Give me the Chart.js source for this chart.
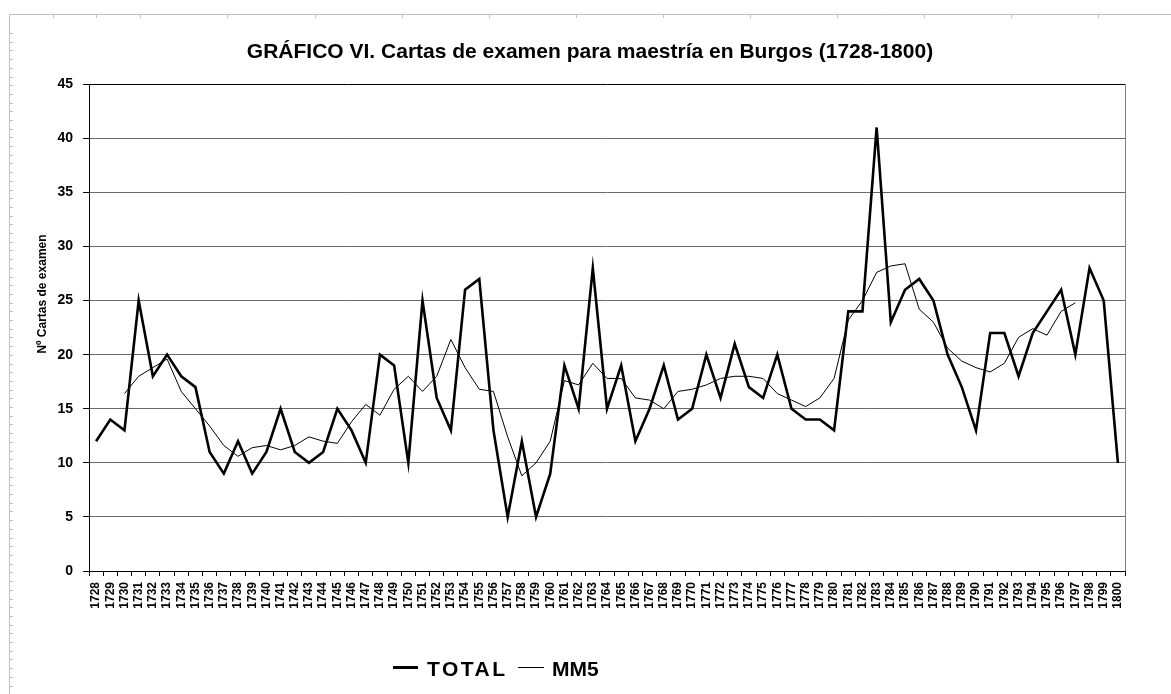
<!DOCTYPE html>
<html>
<head>
<meta charset="utf-8">
<script src="https://cdn.jsdelivr.net/npm/chart.js@4.4.1/dist/chart.umd.min.js"></script>
<style>
    body { margin: 0; background: #fff; }
    #wrap { position: relative; width: 1171px; height: 694px; }
    #wrap canvas { position: absolute; left: 0; top: 0; }
    .lg { position: absolute; font: bold 21px "Liberation Sans", Arial, sans-serif; color: #000; line-height: 1; }
    .lg-line { position: absolute; background: #000; }
</style>
</head>
<body>
<div id="wrap">
    <canvas id="burgos_chart" width="1171" height="694"></canvas>
    <div class="lg-line" style="left:393px; top:666px; width:25px; height:3px;"></div>
    <div class="lg" style="left:427px; top:658px; letter-spacing:2.5px;">TOTAL</div>
    <div class="lg-line" style="left:518px; top:667px; width:26px; height:1px;"></div>
    <div class="lg" style="left:552px; top:658px;">MM5</div>
</div>
<script>
const years = ["1728","1729","1730","1731","1732","1733","1734","1735","1736","1737",
    "1738","1739","1740","1741","1742","1743","1744","1745","1746","1747",
    "1748","1749","1750","1751","1752","1753","1754","1755","1756","1757",
    "1758","1759","1760","1761","1762","1763","1764","1765","1766","1767",
    "1768","1769","1770","1771","1772","1773","1774","1775","1776","1777",
    "1778","1779","1780","1781","1782","1783","1784","1785","1786","1787",
    "1788","1789","1790","1791","1792","1793","1794","1795","1796","1797",
    "1798","1799","1800"];

const total = [12, 14, 13, 25, 18, 20, 18, 17, 11, 9,
    12, 9, 11, 15, 11, 10, 11, 15, 13, 10,
    20, 19, 10, 25, 16, 13, 26, 27, 13, 5,
    12, 5, 9, 19, 15, 28, 15, 19, 12, 15,
    19, 14, 15, 20, 16, 21, 17, 16, 20, 15,
    14, 14, 13, 24, 24, 41, 23, 26, 27, 25,
    20, 17, 13, 22, 22, 18, 22, 24, 26, 20,
    28, 25, 10];

// media movil de 5 anos (MM5)
const mm5 = [null, null, 16.4, 18, 18.8, 19.6, 16.6, 15, 13.4, 11.6,
    10.6, 11.4, 11.6, 11.2, 11.6, 12.4, 12, 11.8, 13.8, 15.4,
    14.4, 16.8, 18, 16.6, 18, 21.4, 18.8, 16.8, 16.6, 12.4,
    8.8, 10, 12, 17.6, 17.2, 19.2, 17.8, 17.8, 16, 15.8,
    15, 16.6, 16.8, 17.2, 17.8, 18, 18, 17.8, 16.4, 15.8,
    15.2, 16, 17.8, 23.2, 25, 27.6, 28.2, 28.4, 24.2, 23,
    20.6, 19.4, 18.8, 18.4, 19.2, 21.6, 22.4, 21.8, 24, 24.8,
    null, null, null];

const yMin = 0;
const yMax = 45;
const yStep = 5;

const FONT = '"Liberation Sans", Arial, sans-serif';

// marco gris de la hoja y titulo del eje Y
const sheetFrame = {
    id: "sheetFrame",
    beforeDraw(chart) {
        const ctx = chart.ctx;
        ctx.save();
        ctx.strokeStyle = "#c0c0c0";
        ctx.lineWidth = 1;
        ctx.beginPath();
        ctx.moveTo(9, 14.5); ctx.lineTo(1171, 14.5);
        ctx.moveTo(9.5, 14); ctx.lineTo(9.5, 694);
        const topTicks = [53, 96, 140, 227, 315, 402, 489, 576, 663, 750, 837, 924, 1011, 1098];
        topTicks.forEach(x => { ctx.moveTo(x + 0.5, 14); ctx.lineTo(x + 0.5, 18); });
        for (let y = 33; y < 694; y += 8.7) {
            const yy = Math.round(y) + 0.5;
            ctx.moveTo(9, yy); ctx.lineTo(13, yy);
        }
        ctx.stroke();
        ctx.restore();
    },
    afterDraw(chart) {
        const ctx = chart.ctx;
        const area = chart.chartArea;
        ctx.save();
        ctx.strokeStyle = "#808080";
        ctx.lineWidth = 1;
        ctx.beginPath();
        ctx.moveTo(area.right + 0.5, area.top);
        ctx.lineTo(area.right + 0.5, area.bottom);
        ctx.stroke();
        ctx.translate(43, 294);
        ctx.rotate(-Math.PI / 2);
        ctx.fillStyle = "#000";
        ctx.font = "bold 12px " + FONT;
        ctx.textAlign = "center";
        ctx.textBaseline = "middle";
        ctx.fillText("Nº Cartas de examen", 0, 0);
        ctx.restore();
    }
};

const el = document.getElementById("burgos_chart");

new Chart(el, {
    type: "line",
    data: {
        labels: years,
        datasets: [
            {
                label: "TOTAL",
                data: total,
                borderColor: "#000",
                borderWidth: 2.6,
                pointRadius: 0,
                tension: 0,
                order: 2
            },
            {
                label: "MM5",
                data: mm5,
                borderColor: "#000",
                borderWidth: 1,
                pointRadius: 0,
                tension: 0,
                order: 1
            }
        ]
    },
    options: {
        responsive: false,
        animation: false,
        events: [],
        layout: { padding: { left: 55, right: 46, top: 0, bottom: 0 } },
        plugins: {
            legend: { display: false },
            tooltip: { enabled: false },
            title: {
                display: true,
                text: "GRÁFICO VI. Cartas de examen para maestría en Burgos (1728-1800)",
                color: "#000",
                font: { family: FONT, size: 21, weight: "bold" },
                padding: { top: 40, bottom: 19 }
            }
        },
        scales: {
            x: {
                offset: true,
                grid: {
                    offset: true,
                    drawOnChartArea: false,
                    tickLength: 5,
                    color: "#000"
                },
                border: { color: "#000", width: 1 },
                ticks: {
                    color: "#000",
                    font: { family: FONT, size: 12, weight: "bold" },
                    minRotation: 90,
                    maxRotation: 90,
                    autoSkip: false,
                    padding: 6
                },
                afterFit(scale) { scale.height = 123; }
            },
            y: {
                min: yMin,
                max: yMax,
                grid: {
                    color: ctx => (ctx.tick && ctx.tick.value === yMax) ? "#000" : "#6a6a6a",
                    tickColor: "#000",
                    tickLength: 6
                },
                border: { color: "#000", width: 1 },
                ticks: {
                    stepSize: yStep,
                    color: "#000",
                    font: { family: FONT, size: 14, weight: "bold" },
                    padding: 10
                },
                afterFit(scale) { scale.width = 34; }
            }
        }
    },
    plugins: [sheetFrame]
});
</script>
</body>
</html>
